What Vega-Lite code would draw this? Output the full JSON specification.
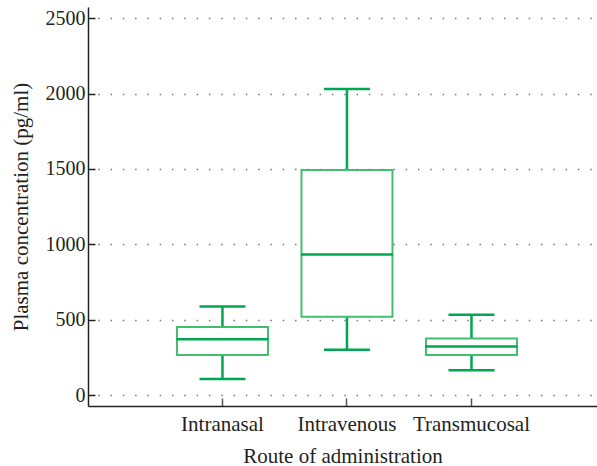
{
  "$schema": "https://vega.github.io/schema/vega-lite/v6.json",
  "width": 509,
  "height": 399,
  "autosize": {"type": "none"},
  "padding": {"left": 88, "top": 7, "right": 0, "bottom": 60},
  "background": "white",
  "config": {"view": {"stroke": null}, "font": "Liberation Serif"},
  "data": {
    "values": [
      {"route": "Intranasal", "min": 107, "q1": 265, "median": 370, "q3": 451, "max": 588},
      {"route": "Intravenous", "min": 300, "q1": 520, "median": 932, "q3": 1493, "max": 2031},
      {"route": "Transmucosal", "min": 164, "q1": 265, "median": 322, "q3": 375, "max": 533}
    ]
  },
  "encoding": {
    "x": {
      "field": "route",
      "type": "nominal",
      "sort": null,
      "scale": {"paddingInner": 0, "paddingOuter": 0.544, "align": 0.533},
      "axis": {
        "title": "Route of administration",
        "labelFontSize": 21,
        "titleFontSize": 21,
        "titleFontWeight": "normal",
        "labelAngle": 0,
        "tickSize": -8,
        "tickColor": "#555555",
        "tickWidth": 1.5,
        "domainColor": "#222222",
        "domainWidth": 1.5,
        "labelPadding": 15,
        "labelColor": "#231f20",
        "titleColor": "#231f20",
        "titleBaseline": "alphabetic",
        "titleY": 56,
        "grid": false
      }
    }
  },
  "layer": [
    {
      "mark": {"type": "rule", "color": "#00a650", "strokeWidth": 2.5},
      "encoding": {
        "y": {
          "field": "min",
          "type": "quantitative",
          "title": "Plasma concentration (pg/ml)",
          "scale": {"domain": [-73, 2575], "nice": false, "zero": false},
          "axis": {
            "values": [0, 500, 1000, 1500, 2000, 2500],
            "format": "d",
            "labelFontSize": 20,
            "titleFontSize": 21,
            "titleFontWeight": "normal",
            "tickSize": -7,
            "tickColor": "#222222",
            "tickWidth": 1.5,
            "domainColor": "#222222",
            "domainWidth": 1.5,
            "labelPadding": 10,
            "labelColor": "#231f20",
            "titleColor": "#231f20",
            "grid": true,
            "gridDash": [1.5, 10.8],
            "gridDashOffset": 2.6,
            "gridColor": "#777777",
            "gridWidth": 1.5,
            "titleX": -61,
            "titleY": 199.5,
            "titleBaseline": "alphabetic",
            "titleAlign": "center"
          }
        },
        "y2": {"field": "max"}
      }
    },
    {
      "mark": {"type": "bar", "fill": "white", "stroke": "#45bd70", "strokeWidth": 2, "size": 91},
      "encoding": {
        "y": {"field": "q1", "type": "quantitative", "title": "Plasma concentration (pg/ml)"},
        "y2": {"field": "q3"}
      }
    },
    {
      "mark": {"type": "tick", "color": "#00a650", "size": 92, "thickness": 2.5, "opacity": 1},
      "encoding": {
        "y": {"field": "median", "type": "quantitative", "title": "Plasma concentration (pg/ml)"}
      }
    },
    {
      "mark": {"type": "tick", "color": "#00a650", "size": 46, "thickness": 2.5, "opacity": 1},
      "encoding": {
        "y": {"field": "min", "type": "quantitative", "title": "Plasma concentration (pg/ml)"}
      }
    },
    {
      "mark": {"type": "tick", "color": "#00a650", "size": 46, "thickness": 2.5, "opacity": 1},
      "encoding": {
        "y": {"field": "max", "type": "quantitative", "title": "Plasma concentration (pg/ml)"}
      }
    }
  ]
}
